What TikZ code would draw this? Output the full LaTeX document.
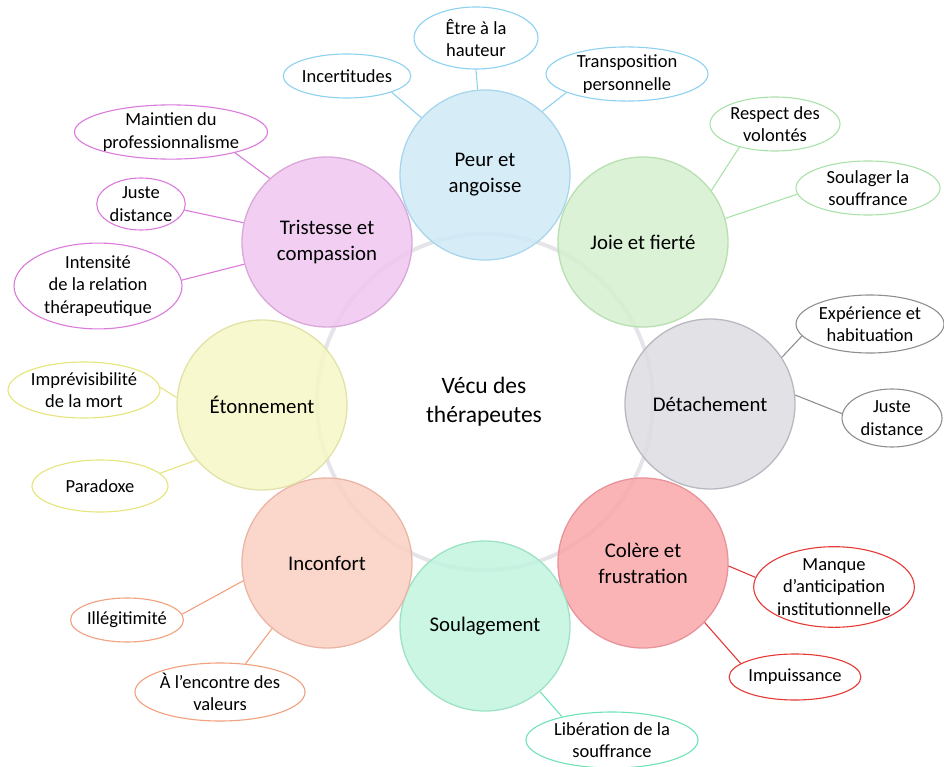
\documentclass[tikz,border=0pt]{standalone}
\usepackage{fontspec}
\setmainfont{Carlito}
\usetikzlibrary{shapes.geometric}
\definecolor{bluef}{HTML}{CFEAF7}\definecolor{blueb}{HTML}{A8D6EC}\definecolor{blues}{HTML}{8DD1F0}
\definecolor{greenf}{HTML}{D5F0D0}\definecolor{greenb}{HTML}{B8DFB0}\definecolor{greens}{HTML}{A9E2A9}
\definecolor{grayf}{HTML}{DCDCE2}\definecolor{grayb}{HTML}{B8B8C0}\definecolor{grays}{HTML}{8F8F8F}
\definecolor{redf}{HTML}{F9A8AA}\definecolor{redb}{HTML}{E8939A}\definecolor{reds}{HTML}{E53935}
\definecolor{mintf}{HTML}{C2F4E0}\definecolor{mintb}{HTML}{9EE2C6}\definecolor{mints}{HTML}{6FE3B5}
\definecolor{peachf}{HTML}{FAD0C2}\definecolor{peachb}{HTML}{EBB5A5}\definecolor{peachs}{HTML}{F2A07F}
\definecolor{yellowf}{HTML}{F7F7C6}\definecolor{yellowb}{HTML}{E2E2A8}\definecolor{yellows}{HTML}{E5E57A}
\definecolor{magf}{HTML}{F0C6F0}\definecolor{magb}{HTML}{D9A8D9}\definecolor{mags}{HTML}{DB7ADB}
\definecolor{ringgray}{HTML}{E4E4E9}
\begin{document}
\begin{tikzpicture}[x=1pt,y=-1pt,
  emo/.style={circle, minimum size=170pt, inner sep=0pt, align=center,
    font=\fontsize{20.8}{26}\selectfont, line width=1.3pt, fill opacity=0.86, text opacity=1},
  sat/.style={ellipse, inner sep=0pt, align=center, fill=white, line width=1.1pt,
    font=\fontsize{18.5}{22.5}\selectfont},
  link/.style={line width=1.1pt}]
\useasboundingbox (0,0) rectangle (944,767);
% background ring
\node (ring) at (485,402) {};
\draw[ringgray, line width=4pt] (ring.center) circle (168pt);
% emotion circles
\node[emo, fill=bluef, draw=blueb] (peur) at (485,175) {Peur et\\angoisse};
\node[emo, fill=greenf, draw=greenb] (joie) at (643,242) {Joie et fierté};
\node[emo, fill=grayf, draw=grayb] (det) at (710,404) {Détachement};
\node[emo, fill=redf, draw=redb] (colere) at (643,563) {Colère et\\frustration};
\node[emo, fill=mintf, draw=mintb] (soul) at (485,626) {Soulagement};
\node[emo, fill=peachf, draw=peachb] (inco) at (327,563) {Inconfort};
\node[emo, fill=yellowf, draw=yellowb] (eton) at (262,405) {Étonnement};
\node[emo, fill=magf, draw=magb] (trist) at (327,242) {Tristesse et\\compassion};
% center
\node[align=center, font=\fontsize{23.5}{29}\selectfont] (center) at (484,402) {Vécu des\\thérapeutes};
% satellites
\node[sat, draw=blues, minimum width=124pt, minimum height=62pt] (etre) at (476,38) {Être à la\\hauteur};
\node[sat, draw=blues, minimum width=110pt, minimum height=44pt] (incert) at (347,76) {Incertitudes};
\node[sat, draw=blues, minimum width=162pt, minimum height=52pt] (transp) at (627,74) {Transposition\\personnelle};
\node[sat, draw=greens, minimum width=130pt, minimum height=54pt] (respect) at (775,124) {Respect des\\volontés};
\node[sat, draw=greens, minimum width=144pt, minimum height=54pt] (soulager) at (868,188) {Soulager la\\souffrance};
\node[sat, draw=grays, minimum width=148pt, minimum height=58pt] (exper) at (870,324) {Expérience et\\habituation};
\node[sat, draw=grays, minimum width=100pt, minimum height=58pt] (jdA) at (892,418) {Juste\\distance};
\node[sat, draw=reds, minimum width=146pt, minimum height=80pt] (manque) at (834,587) {Manque\\d’anticipation\\institutionnelle};
\node[sat, draw=reds, minimum width=114pt, minimum height=46pt] (impuis) at (795,677) {Impuissance};
\node[sat, draw=mints, minimum width=172pt, minimum height=56pt] (liber) at (612,740) {Libération de la\\souffrance};
\node[sat, draw=peachs, minimum width=162pt, minimum height=58pt] (encontre) at (220,692) {À l’encontre des\\valeurs};
\node[sat, draw=peachs, minimum width=96pt, minimum height=44pt] (illeg) at (127,620) {Illégitimité};
\node[sat, draw=yellows, minimum width=136pt, minimum height=52pt] (parad) at (100,486) {Paradoxe};
\node[sat, draw=yellows, minimum width=152pt, minimum height=56pt] (imprev) at (84,390) {Imprévisibilité\\de la mort};
\node[sat, draw=mags, minimum width=168pt, minimum height=72pt] (intens) at (98,286) {Intensité\\de la relation\\thérapeutique};
\node[sat, draw=mags, minimum width=82pt, minimum height=52pt] (jdB) at (141,204) {Juste\\distance};
\node[sat, draw=mags, minimum width=180pt, minimum height=44pt] (maint) at (171,132) {Maintien du\\professionnalisme};
% connectors
\draw[link, blues] (etre.south) -- (peur.95);
\draw[link, blues] (incert.-20) -- (peur.138);
\draw[link, blues] (transp.197) -- (peur.48);
\draw[link, greens] (respect.213) -- (joie.37);
\draw[link, greens] (soulager.185) -- (joie.16);
\draw[link, grays] (exper.190) -- (det.33);
\draw[link, grays] (jdA.175) -- (det.6);
\draw[link, reds] (manque.173) -- (colere.-2);
\draw[link, reds] (impuis.166) -- (colere.-44);
\draw[link, mints] (liber.155) -- (soul.-50);
\draw[link, peachs] (encontre.48) -- (inco.-130);
\draw[link, peachs] (illeg.6) -- (inco.-168);
\draw[link, yellows] (parad.12) -- (eton.-140);
\draw[link, yellows] (imprev.2) -- (eton.175);
\draw[link, mags] (intens.4) -- (trist.-165);
\draw[link, mags] (jdB.-8) -- (trist.167);
\draw[link, mags] (maint.-18) -- (trist.132);
\end{tikzpicture}
\end{document}
